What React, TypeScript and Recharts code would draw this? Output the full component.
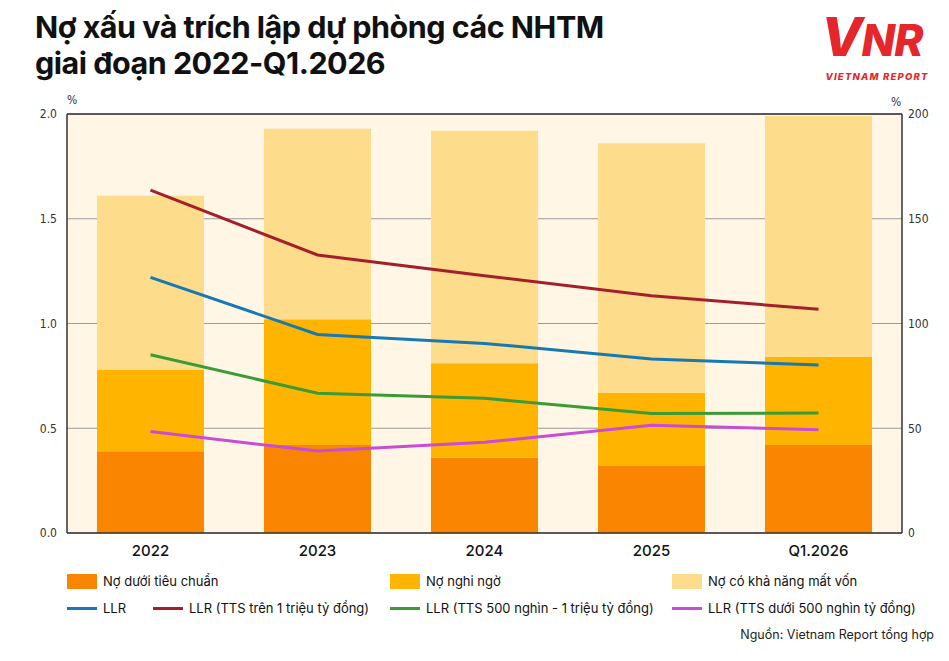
import { Bar, CartesianGrid, ComposedChart, Line, ReferenceLine, XAxis, YAxis } from 'recharts';

const periods = ['2022', '2023', '2024', '2025', 'Q1.2026'];

// Nợ xấu theo nhóm (%), cộng dồn thành cột
const substandard = [0.39, 0.42, 0.36, 0.32, 0.42];
const doubtful = [0.39, 0.6, 0.45, 0.35, 0.42];
const lossDebt = [0.83, 0.91, 1.11, 1.19, 1.15];

// Tỷ lệ bao phủ nợ xấu (%), trục phải
const llrAll = [122, 94.8, 90.5, 83, 80.2];
const llrLarge = [163.7, 132.7, 122.8, 113.3, 106.8];
const llrMid = [85.1, 66.7, 64.3, 57, 57.3];
const llrSmall = [48.4, 39.1, 43.3, 51.4, 49.3];

const leftTicks = [0, 0.5, 1, 1.5, 2];
const rightTicks = [0, 50, 100, 150, 200];

const C = {
  substandard: '#F98500',
  doubtful: '#FFB400',
  loss: '#FDDC8C',
  bg: '#FFF6E6',
  all: '#1679B1',
  large: '#A3202A',
  mid: '#3B9B36',
  small: '#C84CD6',
  axis: '#333',
};

const data = periods.map((p, i) => ({
  period: p,
  substandard: substandard[i],
  doubtful: doubtful[i],
  loss: lossDebt[i],
  all: llrAll[i],
  large: llrLarge[i],
  mid: llrMid[i],
  small: llrSmall[i],
}));

const sans = 'Inter, "Noto Sans", sans-serif';
const narrow = '"Liberation Sans Narrow", "DejaVu Sans Condensed", sans-serif';

const barItems = [
  { label: 'Nợ dưới tiêu chuẩn', color: C.substandard, x: 67 },
  { label: 'Nợ nghi ngờ', color: C.doubtful, x: 390 },
  { label: 'Nợ có khả năng mất vốn', color: C.loss, x: 672 },
];

const lineItems = [
  { label: 'LLR', color: C.all, x: 67 },
  { label: 'LLR (TTS trên 1 triệu tỷ đồng)', color: C.large, x: 153 },
  { label: 'LLR (TTS 500 nghìn - 1 triệu tỷ đồng)', color: C.mid, x: 390 },
  { label: 'LLR (TTS dưới 500 nghìn tỷ đồng)', color: C.small, x: 672 },
];

function Logo() {
  return (
    <svg width={125} height={84} style={{ position: 'absolute', left: 815, top: 1 }}>
      <text
        x={6}
        y={55}
        fill="#E5262A"
        fontFamily={sans}
        fontWeight={800}
        fontStyle="italic"
        letterSpacing={-1}
      >
        <tspan fontSize={54}>V</tspan>
        <tspan fontSize={44}>NR</tspan>
      </text>
      <text
        x={62}
        y={79}
        textAnchor="middle"
        fill="#E5262A"
        fontFamily={sans}
        fontWeight={800}
        fontStyle="italic"
        fontSize={9.5}
        letterSpacing={1.2}
      >
        VIETNAM REPORT
      </text>
    </svg>
  );
}

export default function App() {
  return (
    <div
      style={{
        position: 'absolute',
        left: 0,
        top: 0,
        width: 949,
        height: 661,
        background: '#fff',
        fontFamily: sans,
        color: '#111',
        overflow: 'hidden',
      }}
    >
      <div
        style={{
          position: 'absolute',
          left: 35,
          top: 9,
          fontSize: 30.5,
          fontWeight: 700,
          lineHeight: '36px',
          letterSpacing: -0.5,
        }}
      >
        Nợ xấu và trích lập dự phòng các NHTM
        <br />
        giai đoạn 2022-Q1.2026
      </div>
      <Logo />

      <div style={{ position: 'absolute', left: 67, top: 93, fontSize: 12, fontFamily: narrow, color: C.axis }}>%</div>
      <div style={{ position: 'absolute', left: 891, top: 95, fontSize: 12, fontFamily: narrow, color: C.axis }}>%</div>

      <ComposedChart
        width={949}
        height={563}
        data={data}
        margin={{ top: 114, right: 0, left: 0, bottom: 0 }}
        barCategoryGap={0}
        style={{ position: 'absolute', left: 0, top: 0 }}
      >
        <CartesianGrid vertical={false} fill={C.bg} stroke="#9a9a9a" strokeWidth={1} />
        <XAxis
          dataKey="period"
          height={30}
          tickLine={false}
          axisLine={{ stroke: C.axis, strokeWidth: 1.5 }}
          tick={{ fill: '#111', fontSize: 15, fontFamily: sans, fontWeight: 500 }}
          tickMargin={6}
        />
        <YAxis
          width={67}
          domain={[0, 2]}
          ticks={leftTicks}
          tickFormatter={(v: number) => v.toFixed(1)}
          tickLine={false}
          tickMargin={4}
          axisLine={{ stroke: C.axis, strokeWidth: 1.5 }}
          tick={{ fill: C.axis, fontSize: 12, fontFamily: narrow }}
        />
        <YAxis
          yAxisId="right"
          orientation="right"
          width={47}
          domain={[0, 200]}
          ticks={rightTicks}
          tickLine={false}
          tickMargin={0}
          axisLine={{ stroke: C.axis, strokeWidth: 1.5 }}
          tick={{ fill: C.axis, fontSize: 12, fontFamily: narrow, textAnchor: 'start' }}
        />
        <ReferenceLine y={2} stroke={C.axis} strokeWidth={1.5} />
        <Bar dataKey="substandard" stackId="npl" fill={C.substandard} barSize={107} isAnimationActive={false} />
        <Bar dataKey="doubtful" stackId="npl" fill={C.doubtful} barSize={107} isAnimationActive={false} />
        <Bar dataKey="loss" stackId="npl" fill={C.loss} barSize={107} isAnimationActive={false} />
        <Line yAxisId="right" dataKey="large" stroke={C.large} strokeWidth={3} dot={false} type="linear" isAnimationActive={false} />
        <Line yAxisId="right" dataKey="all" stroke={C.all} strokeWidth={3} dot={false} type="linear" isAnimationActive={false} />
        <Line yAxisId="right" dataKey="mid" stroke={C.mid} strokeWidth={3} dot={false} type="linear" isAnimationActive={false} />
        <Line yAxisId="right" dataKey="small" stroke={C.small} strokeWidth={3} dot={false} type="linear" isAnimationActive={false} />
      </ComposedChart>

      {barItems.map((it) => (
        <div key={it.label} style={{ position: 'absolute', left: it.x, top: 573, display: 'flex', alignItems: 'center', fontSize: 13 }}>
          <span style={{ display: 'inline-block', width: 30, height: 15, background: it.color, marginRight: 6 }} />
          {it.label}
        </div>
      ))}
      {lineItems.map((it) => (
        <div key={it.label} style={{ position: 'absolute', left: it.x, top: 600, display: 'flex', alignItems: 'center', fontSize: 13, height: 16 }}>
          <span style={{ display: 'inline-block', width: 30, height: 3, background: it.color, marginRight: 6 }} />
          {it.label}
        </div>
      ))}
      <div style={{ position: 'absolute', right: 15, top: 627, fontSize: 12.5, color: '#222' }}>
        Nguồn: Vietnam Report tổng hợp
      </div>
    </div>
  );
}
